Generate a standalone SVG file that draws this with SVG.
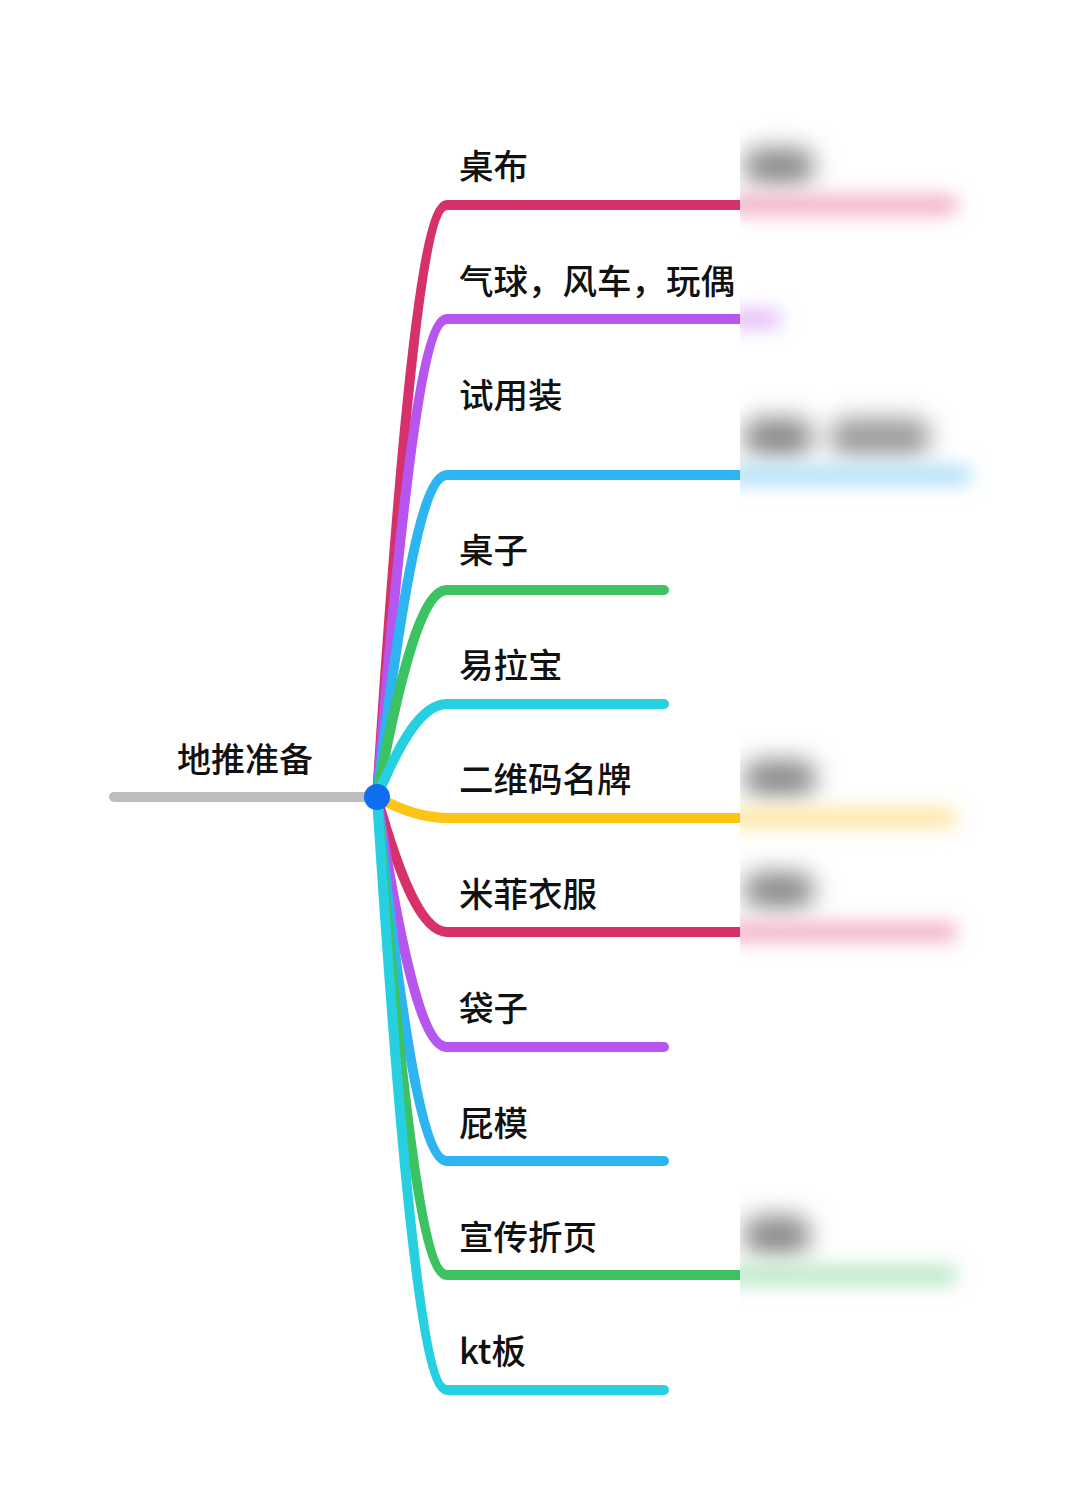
<svg xmlns="http://www.w3.org/2000/svg" width="1080" height="1504" viewBox="0 0 1080 1504">
<style>
  .lbl { font-family: "Noto Sans CJK SC", "Noto Sans", sans-serif; font-size: 34.5px; font-weight: 500; fill: #111; }
  .root { font-size: 34px; }
  .br { fill: none; stroke-width: 10; stroke-linejoin: round; }
  .cut { stroke-linecap: butt; }
  .rnd { stroke-linecap: round; }
  .c1 { stroke: #d6316a; }
  .c2 { stroke: #b656ee; }
  .c3 { stroke: #2db5f1; }
  .c4 { stroke: #3dc262; }
  .c5 { stroke: #27d0e1; }
  .c6 { stroke: #fdc415; }
  .blob { fill: #8a8a8a; }
  .bl { fill: none; stroke-width: 20; stroke-linecap: round; }
</style>
<defs>
  <filter id="blur" x="-30%" y="-150%" width="160%" height="400%">
    <feGaussianBlur stdDeviation="9"/>
  </filter>
  <filter id="blurSoft" x="-60%" y="-150%" width="220%" height="400%">
    <feGaussianBlur stdDeviation="12"/>
  </filter>
  <clipPath id="rightClip"><rect x="740" y="0" width="340" height="1504"/></clipPath>
</defs>
<rect x="0" y="0" width="1080" height="1504" fill="#ffffff"/>

<g id="connectors">
  <line x1="114" y1="797" x2="372" y2="797" stroke="#bdbdbd" stroke-width="10" stroke-linecap="round"/>
  <path class="br c1 cut" d="M377 797 C400 441.8 422 205 447 205 L740 205"/>
  <path class="br c2 cut" d="M377 797 C400 510.2 422 319 447 319 L740 319"/>
  <path class="br c3 cut" d="M377 797 C400 603.8 422 475 447 475 L740 475"/>
  <path class="br c4 rnd" d="M377 797 C400 672.8 422 590 447 590 L664 590"/>
  <path class="br c5 rnd" d="M377 797 C400 741.2 422 704 447 704 L664 704"/>
  <path class="br c6 cut" d="M377 797 C400 809.6 422 818 447 818 L740 818"/>
  <path class="br c1 cut" d="M377 797 C400 878 422 932 447 932 L740 932"/>
  <path class="br c2 rnd" d="M377 797 C400 947 422 1047 447 1047 L664 1047"/>
  <path class="br c3 rnd" d="M377 797 C400 1015.4 422 1161 447 1161 L664 1161"/>
  <path class="br c4 cut" d="M377 797 C400 1083.8 422 1275 447 1275 L740 1275"/>
  <path class="br c5 rnd" d="M377 797 C400 1152.8 422 1390 447 1390 L664 1390"/>
</g>

<g id="node-root">
  <text class="lbl root" x="177" y="772">地推准备</text>
  <circle cx="377" cy="797" r="13" fill="#0d6ff0"/>
</g>
<g id="node-1"><text class="lbl" x="459" y="179">桌布</text></g>
<g id="node-2"><text class="lbl" x="459" y="294">气球，风车，玩偶</text></g>
<g id="node-3"><text class="lbl" x="459" y="408">试用装</text></g>
<g id="node-4"><text class="lbl" x="459" y="563">桌子</text></g>
<g id="node-5"><text class="lbl" x="459" y="678">易拉宝</text></g>
<g id="node-6"><text class="lbl" x="459" y="792">二维码名牌</text></g>
<g id="node-7"><text class="lbl" x="459" y="907">米菲衣服</text></g>
<g id="node-8"><text class="lbl" x="459" y="1021">袋子</text></g>
<g id="node-9"><text class="lbl" x="459" y="1136">屁模</text></g>
<g id="node-10"><text class="lbl" x="459" y="1250">宣传折页</text></g>
<g id="node-11"><text class="lbl" x="459" y="1364">kt板</text></g>

<g id="blurred-region" clip-path="url(#rightClip)">
  <g filter="url(#blurSoft)">
    <rect class="blob" x="744" y="148" width="70" height="36" rx="16"/>
    <rect class="blob" x="744" y="418" width="68" height="38" rx="16"/>
    <rect class="blob" x="830" y="418" width="100" height="38" rx="16" opacity="0.85"/>
    <rect class="blob" x="744" y="760" width="72" height="36" rx="16"/>
    <rect class="blob" x="744" y="872" width="70" height="36" rx="16"/>
    <rect class="blob" x="744" y="1216" width="66" height="38" rx="16"/>
  </g>
  <g filter="url(#blur)">
    <line class="bl" x1="735" y1="205" x2="948" y2="205" stroke="#f2b0c6"/>
    <line class="bl" x1="735" y1="319" x2="772" y2="319" stroke="#e4c0f9"/>
    <line class="bl" x1="735" y1="475" x2="962" y2="475" stroke="#b2e0f8"/>
    <line class="bl" x1="735" y1="818" x2="948" y2="818" stroke="#fde6a4"/>
    <line class="bl" x1="735" y1="932" x2="948" y2="932" stroke="#f3b2c9"/>
    <line class="bl" x1="735" y1="1275" x2="948" y2="1275" stroke="#bae8c6"/>
  </g>
</g>
</svg>
